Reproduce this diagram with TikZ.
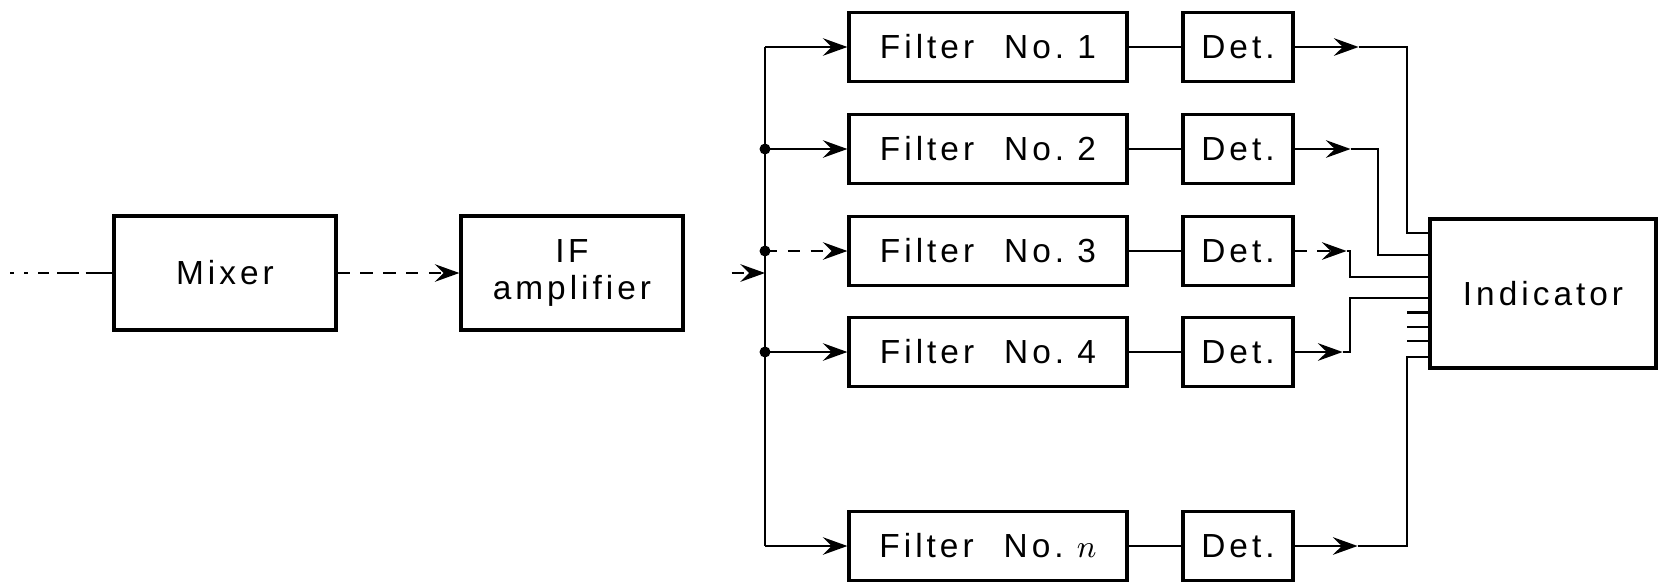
\documentclass[tikz,border=0pt]{standalone}
\usepackage{fontspec}
\setmainfont{Liberation Sans}
\newfontfamily\lblfont{Liberation Sans}[LetterSpace=12]
\usetikzlibrary{arrows.meta}

\begin{document}
\begin{tikzpicture}[
  line width=0.7pt,
  block/.style={draw, line width=0.9pt, inner sep=0pt, align=center,
    font=\lblfont\fontsize{9.5}{10.5}\selectfont},
  stage/.style={block, minimum width=2.22cm, minimum height=1.14cm},
  filt/.style={block, minimum width=2.78cm, minimum height=0.69cm},
  det/.style={block, minimum width=1.10cm, minimum height=0.69cm},
  sig/.style={-{Stealth[length=7pt,width=5pt,inset=2.5pt]}},
  dsig/.style={sig, dash pattern=on 3.5pt off 3pt},
]
\useasboundingbox (0,0) rectangle (16.59,5.85);

% front end
\node[stage] (mixer) at (2.25,3.12) {Mixer};
\node[stage] (ifamp) at (5.72,3.12) {I\kern1pt F\\amplifier};

% filter bank
\node[filt] (f1) at (9.88,5.38) {Filter\hspace{0.9em}No.~1};
\node[filt] (f2) at (9.88,4.36) {Filter\hspace{0.9em}No.~2};
\node[filt] (f3) at (9.88,3.34) {Filter\hspace{0.9em}No.~3};
\node[filt] (f4) at (9.88,2.33) {Filter\hspace{0.9em}No.~4};
\node[filt] (fn) at (9.88,0.39) {Filter\hspace{0.9em}No.~$n$};

\node[det] (d1) at (12.38,5.38) {Det.};
\node[det] (d2) at (12.38,4.36) {Det.};
\node[det] (d3) at (12.38,3.34) {Det.};
\node[det] (d4) at (12.38,2.33) {Det.};
\node[det] (dn) at (12.38,0.39) {Det.};

\node[block, minimum width=2.26cm, minimum height=1.49cm] (ind) at (15.43,2.915) {Indicator};

% input side
\coordinate (in) at (0.10,3.12);
\coordinate (busin) at (7.65,3.12);
\coordinate (bustop) at (7.65,5.38);
\coordinate (busbot) at (7.65,0.39);

\draw[dash pattern=on 1pt off 3pt on 1pt off 3pt on 3pt off 2.5pt on 6pt off 2pt on 7pt off 0pt]
  (in) -- (mixer.west);
\draw[dsig] (mixer) -- (ifamp);
\draw[dsig, shorten <=0.47cm] (ifamp.east) -- (busin);

% bus to filters
\draw (bustop) -- (busbot);
\draw[sig] (bustop) -- (f1.west);
\draw[sig] (bustop |- f2.west) -- (f2.west);
\draw[dsig] (bustop |- f3.west) -- (f3.west);
\draw[sig] (bustop |- f4.west) -- (f4.west);
\draw[sig] (busbot) -- (fn.west);
\fill (bustop |- f2.west) circle (0.055);
\fill (bustop |- f3.west) circle (0.055);
\fill (bustop |- f4.west) circle (0.055);

% filters to detectors
\draw (f1) -- (d1);
\draw (f2) -- (d2);
\draw (f3) -- (d3);
\draw (f4) -- (d4);
\draw (fn) -- (dn);

% detectors to indicator
\coordinate (a1) at ([xshift=0.64cm]d1.east);
\coordinate (a2) at ([xshift=0.56cm]d2.east);
\coordinate (a3) at ([xshift=0.52cm]d3.east);
\coordinate (a4) at ([xshift=0.48cm]d4.east);
\coordinate (an) at ([xshift=0.63cm]dn.east);
\coordinate (k1) at (14.07,3.52);
\coordinate (k2) at (13.78,3.30);
\coordinate (k3) at (13.50,3.08);
\coordinate (k4) at (13.50,2.87);
\coordinate (kn) at (14.07,2.28);
\coordinate (s1) at (14.07,2.725);
\coordinate (s2) at (14.07,2.58);
\coordinate (s3) at (14.07,2.44);

\draw[sig] (d1.east) -- (a1);
\draw[sig] (d2.east) -- (a2);
\draw[dsig] (d3.east) -- (a3);
\draw[sig] (d4.east) -- (a4);
\draw[sig] (dn.east) -- (an);
\draw (a1) -| (k1) -- (k1 -| ind.west);
\draw (a2) -| (k2) -- (k2 -| ind.west);
\draw (a3) -| (k3) -- (k3 -| ind.west);
\draw (a4) -| (k4) -- (k4 -| ind.west);
\draw (an) -| (kn) -- (kn -| ind.west);
\draw (s1) -- (s1 -| ind.west);
\draw (s2) -- (s2 -| ind.west);
\draw (s3) -- (s3 -| ind.west);
\end{tikzpicture}
\end{document}
